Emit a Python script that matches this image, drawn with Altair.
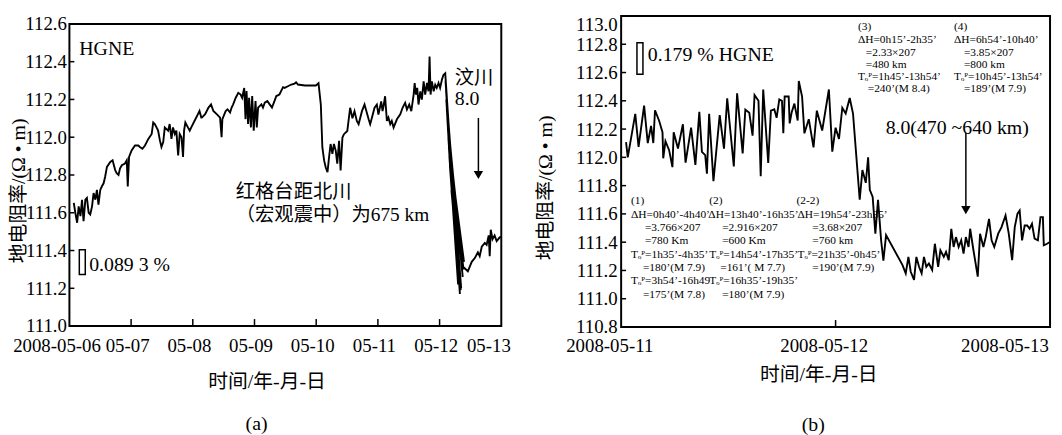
import json
import altair as alt
import pandas as pd

SERIF = "Liberation Serif"
MIXED = "Liberation Serif, Noto Sans CJK SC"

# ------------------------------------------------------------------ panel (a)
# hours after 2008-05-06 00:00 and resistivity values (Ohm m)
a_h_day1 = [1.7, 2.3, 3.0, 3.6, 4.3, 4.9, 5.5, 6.2, 6.8, 7.5, 8.1, 8.8, 9.4, 10.1, 10.7, 11.3,
            12.0, 12.6, 13.3, 13.9, 14.6, 15.9, 16.8, 17.8, 18.4, 19.1, 19.7, 20.4, 21.6, 22.3,
            22.7, 23.2, 24.2, 25.5, 26.8, 27.4, 28.4, 29.4, 30.7, 32.0, 32.6, 33.2, 33.9, 34.5,
            35.2, 35.8, 36.5, 37.1, 38.4, 39.0, 39.7, 40.3, 41.0, 41.6, 42.3, 42.9, 43.6, 44.2,
            44.6, 45.1, 46.1, 46.8, 47.4, 48.7, 50.0, 50.6, 51.3]
a_v_day1 = [111.652, 111.600, 111.547, 111.634, 111.582, 111.669, 111.556, 111.669, 111.678,
            111.600, 111.591, 111.634, 111.704, 111.669, 111.721, 111.643, 111.721, 111.739,
            111.756, 111.791, 111.843, 111.869, 111.878, 111.826, 111.809, 111.800, 111.835,
            111.852, 111.861, 111.878, 111.739, 111.896, 111.930, 111.956, 111.956, 111.948,
            111.939, 111.956, 111.991, 112.017, 112.078, 112.070, 112.052, 112.035, 111.983,
            111.948, 111.974, 112.052, 112.035, 112.070, 111.991, 112.052, 112.017, 112.035,
            111.904, 112.017, 112.000, 111.896, 112.035, 112.078, 112.052, 112.035, 112.052,
            112.087, 112.122, 112.139, 112.104]
a_h_mid = [51.5, 52.8, 54.1, 55.1, 56.0, 57.3, 58.6, 59.2, 59.5, 60.3, 60.8, 61.5, 62.5, 63.1,
           63.7, 64.7, 65.7, 66.6, 67.2, 68.0, 68.5, 68.9, 69.5, 69.9, 70.6, 71.1, 71.7, 72.4,
           72.9, 73.4, 74.7, 75.3, 76.0, 77.0, 77.9, 78.8, 79.8, 80.5, 81.7, 83.1, 83.7, 85.0,
           86.3, 87.6, 88.2, 88.9, 91.6, 94.2, 95.9, 96.9]
a_v_mid = [112.104, 112.122, 112.157, 112.174, 112.139, 112.122, 112.104, 112.000, 112.096,
           112.122, 112.139, 112.148, 112.131, 112.157, 112.174, 112.209, 112.235, 112.226,
           112.209, 112.261, 112.096, 112.244, 112.070, 112.209, 112.052, 112.218, 112.035,
           112.192, 112.052, 112.157, 112.174, 112.157, 112.183, 112.192, 112.174, 112.157,
           112.192, 112.218, 112.226, 112.265, 112.261, 112.270, 112.279, 112.284, 112.291,
           112.279, 112.274, 112.274, 112.274, 112.286]
a_h_dip = [97.8, 98.4, 99.1, 99.7, 100.4, 101.0, 101.6, 102.3, 102.9, 103.6, 104.2, 104.9,
           105.5, 106.2, 106.8, 108.1]
a_v_dip = [112.173, 111.946, 111.876, 111.841, 111.815, 111.894, 111.964, 111.912, 111.964,
           111.929, 111.860, 111.981, 111.824, 111.998, 112.016, 112.033]
a_h_pre = [109.2, 110.1, 110.9, 111.8, 112.5, 113.8, 114.8, 115.7, 116.4, 117.0, 117.7, 118.7,
           119.6, 120.2, 121.3, 121.8, 122.2, 122.8, 123.5, 124.1, 124.8, 125.4, 126.1, 127.4,
           128.7, 129.6, 130.6, 131.3, 132.2, 133.0, 133.9, 134.3, 134.8, 135.3, 135.8, 136.5,
           137.1, 137.8, 138.4, 139.1, 139.7, 140.1, 140.5, 141.0, 141.7, 142.3, 142.9, 143.6,
           144.2, 144.9, 145.5, 146.2]
a_v_pre = [112.156, 112.100, 112.138, 112.086, 112.069, 112.138, 112.173, 112.130, 112.095,
           112.069, 112.104, 112.156, 112.173, 112.120, 112.190, 112.138, 112.164, 112.217,
           112.086, 112.104, 112.069, 112.086, 112.051, 112.095, 112.121, 112.156, 112.182,
           112.147, 112.173, 112.138, 112.226, 112.287, 112.226, 112.261, 112.173, 112.243,
           112.199, 112.296, 112.226, 112.287, 112.243, 112.427, 112.226, 112.296, 112.243,
           112.278, 112.261, 112.287, 112.261, 112.304, 112.330, 112.339]
# rapid oscillation during the main shock (drawn in recorded order)
a_h_quake = [151.9, 146.3, 151.5, 146.5, 152.4, 146.6, 150.8, 146.8, 153.0, 147.0, 150.3,
             147.2, 153.3, 147.4, 151.2, 147.6, 153.5, 147.8, 150.0, 148.0, 152.2, 148.3,
             151.0, 148.6, 153.1]
a_v_quake = [111.17, 112.30, 111.22, 112.25, 111.20, 112.20, 111.32, 112.15, 111.26, 112.10,
             111.42, 112.05, 111.30, 112.00, 111.22, 111.95, 111.34, 111.90, 111.48, 111.85,
             111.19, 111.80, 111.36, 111.72, 111.315]
a_h_post = [155.0, 156.5, 157.7, 158.9, 159.6, 160.4, 161.6, 162.3, 163.1, 163.5, 163.9, 164.6,
            165.4, 166.2, 167.4, 168.0]
a_v_post = [111.29, 111.34, 111.36, 111.39, 111.37, 111.42, 111.44, 111.43, 111.48, 111.37,
            111.51, 111.46, 111.48, 111.45, 111.47, 111.47]

a_hours = a_h_day1 + a_h_mid + a_h_dip + a_h_pre + a_h_quake + a_h_post
a_vals = a_v_day1 + a_v_mid + a_v_dip + a_v_pre + a_v_quake + a_v_post

A_X_TICKS = [0, 24, 48, 72, 96, 120, 144, 168]
A_X_LABELS = ["2008-05-06", "05-07", "05-08", "05-09", "05-10", "05-11", "05-12", "05-13"]
A_Y_TICKS = [111.0, 111.2, 111.4, 111.6, 111.8, 112.0, 112.2, 112.4, 112.6]
A_Y_LABELS = ["111.0", "111.2", "111.4", "111.6", "112.8", "112.0", "112.2", "112.4", "112.6"]

# annotations of (a), in data units
a_big_text = ["HGNE", "0.089 3 %", "8.0"]
a_big_h = [3.85, 7.7, 149.9]
a_big_v = [112.469, 111.325, 112.201]
a_cjk_text = ["汶川", "红格台距北川", "（宏观震中）为675 km"]
a_cjk_h = [149.9, 64.7, 64.7]
a_cjk_v = [112.312, 111.708, 111.588]
a_bar = {"h": [3.85], "h2": [6.17], "v": [111.273], "v2": [111.404]}
a_arrow = {"h": [159.1], "v": [112.102], "v2": [111.80]}
a_panel = {"h": [72.8], "v": [110.481], "t": ["(a)"]}

# ------------------------------------------------------------------ panel (b)
b_hours = [0.55, 0.74, 1.58, 1.95, 2.57, 2.98, 3.35, 3.60, 3.79, 4.26, 4.63, 4.71, 4.96, 5.37,
           5.74, 5.88, 6.36, 6.91, 7.21, 7.83, 8.31, 8.75, 9.04, 9.41, 9.60, 9.85, 10.33, 11.03,
           11.51, 11.87, 12.61, 12.98, 13.60, 13.90, 14.34, 14.71, 14.93, 15.37, 15.62, 15.90,
           16.46, 16.76, 17.14, 17.40, 17.70, 18.00, 18.15, 18.30, 18.75, 18.86, 19.09, 19.39,
           19.76, 19.88, 20.25, 20.51, 21.00, 21.53, 21.90, 22.50, 23.25, 23.63, 24.00, 24.38,
           24.75, 25.13, 25.58, 25.95, 26.33, 26.70, 27.00, 27.38, 27.64, 27.83, 28.15, 28.45,
           28.75, 29.10, 29.35, 29.65, 31.49,
           31.85, 32.15, 32.41, 32.78, 33.04, 33.34, 33.63, 33.89, 34.15, 34.44, 34.81, 35.11,
           35.48, 35.73, 36.11, 36.36, 36.66, 36.95, 37.21, 37.47, 37.77, 38.06, 38.32, 38.58,
           38.88, 39.06, 39.43, 39.91, 40.17, 40.54, 40.80, 41.17, 41.46, 41.76, 42.20, 42.57,
           43.02, 43.38, 43.76, 44.05, 44.35, 44.60, 44.87, 45.16, 45.45, 45.71, 45.98, 46.27,
           46.64, 46.93, 47.20, 47.30, 47.67, 47.93]
b_vals = [112.108, 112.000, 112.308, 112.074, 112.366, 112.101, 112.223, 112.101, 112.333,
          112.257, 112.177, 111.993, 112.115, 112.051, 111.931, 112.177, 112.062, 112.234,
          111.963, 112.211, 111.947, 112.322, 112.039, 112.016, 111.885, 112.308, 111.832,
          112.299, 112.062, 112.418, 111.936, 112.453, 112.028, 112.338, 112.315, 112.154,
          112.441, 112.400, 111.867, 112.48, 111.96, 112.33, 112.34, 112.28, 112.41, 112.40,
          112.17, 112.43, 112.43, 112.24, 112.32, 112.38, 112.26, 112.54, 112.43, 112.17,
          112.27, 112.07, 112.33, 112.19, 112.48, 112.04, 112.21, 112.13, 112.35, 112.31,
          112.42, 112.31, 112.00, 111.70, 111.91, 111.82, 112.00, 111.77, 111.72, 111.46,
          111.70, 111.41, 111.27, 111.45, 111.238,
          111.179, 111.296, 111.191, 111.133, 111.296, 111.226, 111.179, 111.296, 111.226,
          111.249, 111.203, 111.389, 111.226, 111.343, 111.296, 111.331, 111.273, 111.495,
          111.366, 111.436, 111.366, 111.413, 111.319, 111.436, 111.366, 111.495, 111.343,
          111.156, 111.460, 111.366, 111.436, 111.565, 111.413, 111.366, 111.460, 111.507,
          111.589, 111.460, 111.273, 111.507, 111.600, 111.624, 111.413, 111.518, 111.518,
          111.495, 111.530, 111.425, 111.413, 111.577, 111.577, 111.378, 111.389, 111.400]

B_X_TICKS = [0, 24, 48]
B_X_LABELS = ["2008-05-11", "2008-05-12", "2008-05-13"]
B_Y_TICKS = [110.8, 111.0, 111.2, 111.4, 111.6, 111.8, 112.0, 112.2, 112.4, 112.6, 112.8, 113.0]

b_big_text = ["0.179 % HGNE", "8.0(470 ~640 km)"]
b_big_h = [2.99, 29.6]
b_big_v = [112.727, 112.209]
b_bar = {"h": [1.77], "h2": [2.44], "v": [112.587], "v2": [112.811]}
b_arrow = {"h": [38.58], "v": [112.174], "v2": [111.627]}
b_panel = {"h": [21.5], "v": [110.108], "t": ["(b)"]}

b_note_text = [
    "(1)", "ΔH=0h40’-4h40’", "=3.766×207", "=780 Km", "Tₒᴾ=1h35’-4h35’", "=180’(M 7.9)",
    "Tₒᴾ=3h54’-16h49", "=175’(M 7.8)",
    "(2)", "ΔH=13h40’-16h35’", "=2.916×207", "=600 Km", "Tₒᴾ=14h54’-17h35’", "=161’( M 7.7)",
    "Tₒᴾ=16h35’-19h35’", "=180’(M 7.9)",
    "(2-2)", "ΔH=19h54’-23h35’", "=3.68×207", "=760 km", "Tₒᴾ=21h35’-0h45’", "=190’(M 7.9)",
    "(3)", "ΔH=0h15’-2h35’", "=2.33×207", "=480 km", "Tₒᴾ=1h45’-13h54’", "=240’(M 8.4)",
    "(4)", "ΔH=6h54’-10h40’", "=3.85×207", "=800 km", "Tₒᴾ=10h45’-13h54’", "=189’(M 7.9)",
]
b_note_h = [1.11, 1.11, 2.66, 2.66, 1.11, 2.44, 1.11, 2.44,
            9.87, 9.76, 11.31, 11.31, 9.87, 11.09, 9.87, 11.31,
            19.62, 19.73, 21.4, 21.4, 19.73, 21.4,
            26.5, 26.5, 27.38, 27.38, 26.5, 27.6,
            37.25, 37.25, 38.36, 38.36, 37.25, 38.36]
b_note_v = [111.690, 111.595, 111.501, 111.406, 111.312, 111.217, 111.122, 111.028,
            111.690, 111.595, 111.501, 111.406, 111.312, 111.217, 111.122, 111.028,
            111.690, 111.595, 111.501, 111.406, 111.312, 111.217,
            112.923, 112.829, 112.741, 112.654, 112.566, 112.482,
            112.923, 112.829, 112.741, 112.654, 112.566, 112.482]

# ------------------------------------------------------------------ helpers
W_A, W_B, H = 436, 433, 314


def panel(hours, vals, xenc, yenc, frame, xticks, yticks,
          big, cjk, bar, arrow, plabel, width, tick_bottom, notes=None):
    df = pd.DataFrame({"h": hours, "v": vals, "i": list(range(len(hours)))})
    layers = [
        alt.Chart(df).mark_line(color="black", strokeWidth=1.9, strokeJoin="miter")
        .encode(order="i:Q"),
        alt.Chart(pd.DataFrame(frame)).mark_rect(filled=False, stroke="black", strokeWidth=2)
        .encode(x2="h2:Q", y2="v2:Q"),
        alt.Chart(pd.DataFrame({"h": xticks})).mark_rule(color="black", strokeWidth=1.5)
        .encode(y=alt.value(tick_bottom), y2=alt.value(tick_bottom - 7)),
        alt.Chart(pd.DataFrame({"v": yticks})).mark_rule(color="black", strokeWidth=1.5)
        .encode(x=alt.value(0), x2=alt.value(5)),
        alt.Chart(pd.DataFrame(bar)).mark_rect(filled=False, stroke="black", strokeWidth=1.5)
        .encode(x2="h2:Q", y2="v2:Q"),
        alt.Chart(pd.DataFrame(arrow)).mark_rule(color="black", strokeWidth=1.5)
        .encode(y2="v2:Q"),
        alt.Chart(pd.DataFrame({"h": arrow["h"], "v": arrow["v2"]}))
        .mark_point(shape="triangle-down", filled=True, color="black", size=90, opacity=1),
        alt.Chart(pd.DataFrame(big)).mark_text(align="left", baseline="middle", font=SERIF,
                                               fontSize=20, color="black")
        .encode(text="t:N"),
    ]
    if cjk is not None:
        layers.append(
            alt.Chart(pd.DataFrame(cjk)).mark_text(align="left", baseline="middle", font=MIXED,
                                                   fontSize=19.5, color="black")
            .encode(text="t:N")
        )
    if notes is not None:
        layers.append(
            alt.Chart(pd.DataFrame(notes)).mark_text(align="left", baseline="middle", font=SERIF,
                                                     fontSize=11.5, color="black")
            .encode(text="t:N")
        )
    layers.append(
        alt.Chart(pd.DataFrame(plabel)).mark_text(align="center", baseline="middle", font=SERIF,
                                                  fontSize=20, color="black")
        .encode(text="t:N")
    )
    return alt.layer(*layers).encode(x=xenc, y=yenc).properties(width=width, height=H)


# ------------------------------------------------------------------ panel (a) chart
xa = alt.X(
    "h:Q",
    scale=alt.Scale(domain=[A_X_TICKS[0], A_X_TICKS[-1]], nice=False, zero=False),
    axis=alt.Axis(
        values=A_X_TICKS,
        labelExpr=json.dumps(A_X_LABELS) + "[round(datum.value/24)]",
        labelFlush=False,
        labelPadding=10,
        labelOffset={"condition": {"test": "datum.value < 1 || datum.value > 167", "value": -13},
                     "value": -4},
        title="时间/年-月-日", titleX=199, titleY=55, titleBaseline="middle", titleAlign="center",
    ),
)
ya = alt.Y(
    "v:Q",
    scale=alt.Scale(domain=[110.995, 112.642], nice=False, zero=False),
    axis=alt.Axis(
        values=A_Y_TICKS,
        labelExpr=json.dumps(A_Y_LABELS) + "[round((datum.value-111.0)/0.2)]",
        labelPadding=3,
        title="地电阻率/(Ω • m)", titleX=-51, titleY=176, titleAngle=270,
        titleBaseline="middle", titleAlign="center",
    ),
)
left = panel(
    a_hours, a_vals, xa, ya,
    {"h": [A_X_TICKS[0]], "h2": [A_X_TICKS[-1]], "v": [A_Y_TICKS[0]], "v2": [A_Y_TICKS[-1]]},
    A_X_TICKS[1:-1], A_Y_TICKS[1:-1],
    {"h": a_big_h, "v": a_big_v, "t": a_big_text},
    {"h": a_cjk_h, "v": a_cjk_v, "t": a_cjk_text},
    a_bar, a_arrow, a_panel, W_A, H - 1,
)

# ------------------------------------------------------------------ panel (b) chart
xb = alt.X(
    "h:Q",
    scale=alt.Scale(domain=[B_X_TICKS[0], B_X_TICKS[-1]], nice=False, zero=False),
    axis=alt.Axis(
        values=B_X_TICKS,
        labelExpr=json.dumps(B_X_LABELS) + "[round(datum.value/24)]",
        labelFlush=False,
        labelPadding=10,
        labelOffset={"condition": {"test": "datum.value > 47", "value": -46}, "value": -12},
        title="时间/年-月-日", titleX=199, titleY=48, titleBaseline="middle", titleAlign="center",
    ),
)
yb = alt.Y(
    "v:Q",
    scale=alt.Scale(domain=[B_Y_TICKS[0], B_Y_TICKS[-1]], nice=False, zero=False),
    axis=alt.Axis(
        values=B_Y_TICKS, format=".1f", labelPadding=4,
        labelBaseline={"condition": {"test": "datum.value > 112.95", "value": "top"},
                       "value": "middle"},
        title="地电阻率/(Ω • m)", titleX=-76, titleY=173, titleAngle=270,
        titleBaseline="middle", titleAlign="center",
    ),
)
right = panel(
    b_hours, b_vals, xb, yb,
    {"h": [B_X_TICKS[0]], "h2": [B_X_TICKS[-1]], "v": [B_Y_TICKS[0]], "v2": [B_Y_TICKS[-1]]},
    B_X_TICKS[1:-1], B_Y_TICKS[1:-1],
    {"h": b_big_h, "v": b_big_v, "t": b_big_text},
    None,
    b_bar, b_arrow, b_panel, W_B, H,
    notes={"h": b_note_h, "v": b_note_v, "t": b_note_text},
)

chart = (
    alt.hconcat(left, right, spacing=121, bounds="flush")
    .properties(padding={"left": 0, "top": 4, "right": 0, "bottom": 0})
    .configure_view(stroke="transparent")
    .configure_axis(
        labelFont=SERIF, labelFontSize=19, labelColor="black",
        titleFont=MIXED, titleFontSize=20, titleFontWeight="normal", titleColor="black",
        grid=False, ticks=False, domain=False, labelOverlap=False,
    )
)

chart.save("out.html", embed_options={"renderer": "svg", "actions": False})
